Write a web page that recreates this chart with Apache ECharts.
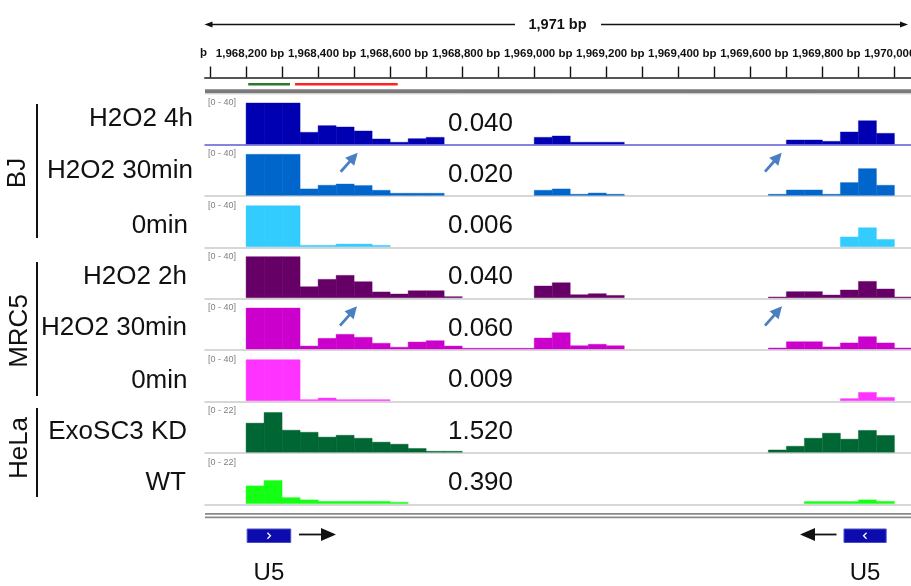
<!DOCTYPE html>
<html><head><meta charset="utf-8">
<script src="https://cdn.jsdelivr.net/npm/echarts@6/dist/echarts.min.js"></script>
<style>html,body{margin:0;padding:0;background:#fff}#c{width:911px;height:586px}</style>
</head><body><div id="c"></div>
<script>
// ---------- data ----------
const viewStart = 1968086, viewEnd = 1970046;
const spanLabel = '1,971 bp';
const rulerTicks = [1968100,1968200,1968300,1968400,1968500,1968600,1968700,1968800,1968900,1969000,1969100,1969200,1969300,1969400,1969500,1969600,1969700,1969800,1969900,1970000];
const rulerLabels = [1968200,1968400,1968600,1968800,1969000,1969200,1969400,1969600,1969800,1970000];
const binStarts = [1968200,1968250,1968300,1968350,1968400,1968450,1968500,1968550,1968600,1968650,1968700,1968750,1968800,1968850,1968900,1968950,1969000,1969050,1969100,1969150,1969200,1969250,1969300,1969350,1969400,1969450,1969500,1969550,1969600,1969650,1969700,1969750,1969800,1969850,1969900,1969950,1970000];
const binSize = 50;
const groupNames = ['BJ','MRC5','HeLa'];
const trackNames = ['H2O2 4h','H2O2 30min','0min','H2O2 2h','H2O2 30min','0min','ExoSC3 KD','WT'];
const trackRanges = [40,40,40,40,40,40,22,22];
const trackScores = ['0.040','0.020','0.006','0.040','0.060','0.009','1.520','0.390'];
const bj4h   = [40,40,40,11.4,17.9,16.6,12.7,4.9,1.7,5.2,6.5,0,0,0,0,0,6.5,7.8,1.7,1.7,1.7,0,0,0,0,0,0,0,0,0,3.9,3.9,2.6,11.7,22.7,10.4,0];
const bj30   = [40,40,40,6.2,9.8,11,9.5,4.9,2,2,2,0,0,0,0,0,4.9,6.2,1,2.2,1,0,0,0,0,0,0,0,0,1,5.2,5.2,1,12.4,26,9.8,0];
const bj0    = [40,40,40,1.3,1.3,2.6,2.6,1.3,0,0,0,0,0,0,0,0,0,0,0,0,0,0,0,0,0,0,0,0,0,0,0,0,0,9.5,18.5,7.1,0];
const mrc2h  = [40,40,40,10.7,17.9,21.8,15.6,5.6,3.6,6.8,6.8,1,0,0,0,0,11.4,14.6,2.9,3.9,2.2,0,0,0,0,0,0,0,0,0.7,5.9,5.9,2.6,7.5,15.9,8.5,0.7];
const mrc30  = [40,40,40,2.9,10.4,14.3,11.4,5.6,1.7,6.8,8.1,2.9,0.7,0.7,0.7,0.7,10.7,15.9,3.2,4.6,3.2,0,0,0,0,0,0,0,0,1,7.1,7.1,2,5.9,12,5.9,1];
const mrc0   = [40,40,40,1,2.6,1,1,1,0,0,0,0,0,0,0,0,0,0,0,0,0,0,0,0,0,0,0,0,0,0,0,0,0,2,8.1,3.2,0];
const helaKD = [15.6,21.3,11.8,10.7,8.1,9.1,7.5,5.4,4.3,2,0.5,0.5,0,0,0,0,0,0,0,0,0,0,0,0,0,0,0,0,0,1.2,3.2,7.5,10.2,7,11.7,9,0];
const helaWT = [9.5,12.4,3.2,2,1.2,1.2,1.2,1.2,0.7,0,0,0,0,0,0,0,0,0,0,0,0,0,0,0,0,0,0,0,0,0,0,1.1,1.1,1.1,2,1.2,0];
const regionStart = [1968206,1968336];
const regionEnd   = [1968322,1968621];
const geneStart  = [1968203,1969860];
const geneEnd    = [1968324,1969977];
const geneStrand = ['+','-'];
const geneName   = ['U5','U5'];

// ---------- styling / layout ----------
const tracks = [bj4h,bj30,bj0,mrc2h,mrc30,mrc0,helaKD,helaWT];
const trackColors = ['#0000b2','#0066cc','#33ccff','#660066','#cc00cc','#ff33ff','#006633','#14ff14'];
const baselines = [144,195.3,246.7,297.7,349,400.7,452.2,503.6];
const labelY = [119,171,225.5,276.5,328,381,432,483];
const labelRight = [193,193,188,187,187,187.5,187,186];
const regionColors = ['#2b7a2b','#ff2424'];
const FONT = '"Liberation Sans", Arial, Helvetica, sans-serif';
const L = 205, W = 706;

const chart = echarts.init(document.getElementById('c'), null, {renderer:'canvas'});
const grid = [], xAxis = [], yAxis = [], series = [];
function fmt(v){ return String(v).replace(/\B(?=(\d{3})+(?!\d))/g, ',') + ' bp'; }
function mkGrid(top, height){ return {left:L, width:W, top:top, height:height, containLabel:false, outerBoundsMode:'none'}; }

tracks.forEach((vals, i) => {
  grid.push(mkGrid(baselines[i]-41, 41));
  xAxis.push({type:'value', gridIndex:i, min:viewStart, max:viewEnd, offset:0.75,
    axisLine:{show:true, onZero:false, lineStyle:{color: i===0 ? '#5b5bd6' : '#cacaca', width:1.5}},
    axisTick:{show:false}, axisLabel:{show:false}, splitLine:{show:false}});
  yAxis.push({type:'value', gridIndex:i, min:0, max:trackRanges[i], show:false});
  const color = trackColors[i];
  series.push({type:'custom', xAxisIndex:i, yAxisIndex:i, encode:{x:[0,1], y:2},
    data: binStarts.map((s,k)=>[s, s+binSize, vals[k]]).filter(d=>d[2]>0),
    renderItem:(params, api)=>{
      const p0 = api.coord([api.value(0), api.value(2)]);
      const p1 = api.coord([api.value(1), 0]);
      return {type:'rect', shape:{x:p0[0], y:p0[1], width:p1[0]-p0[0], height:p1[1]-p0[1]},
        style:{fill:color, stroke:color, lineWidth:0.4}};
    }});
});

// ruler grid (index 8)
grid.push(mkGrid(76.5, 1));
xAxis.push({type:'value', gridIndex:8, position:'top', min:viewStart, max:viewEnd,
  axisLine:{show:true, lineStyle:{color:'#555', width:2}},
  axisTick:{show:true, length:11, lineStyle:{color:'#111', width:1.4}, customValues:rulerTicks},
  axisLabel:{show:true, customValues:rulerLabels, formatter:fmt, fontFamily:FONT, fontSize:11.5, fontWeight:'bold', color:'#111', margin:17, padding:[0,0,0,8], hideOverlap:false},
  splitLine:{show:false}});
yAxis.push({type:'value', gridIndex:8, min:0, max:1, show:false});

// region lines grid (index 9)
grid.push(mkGrid(83, 2.4));
xAxis.push({type:'value', gridIndex:9, min:viewStart, max:viewEnd, show:false});
yAxis.push({type:'value', gridIndex:9, min:0, max:1, show:false});
series.push({type:'custom', xAxisIndex:9, yAxisIndex:9, encode:{x:[0,1]},
  data: regionStart.map((s,k)=>[s, regionEnd[k], k]),
  renderItem:(params, api)=>{
    const p0 = api.coord([api.value(0), 1]);
    const p1 = api.coord([api.value(1), 0]);
    return {type:'rect', shape:{x:p0[0], y:p0[1], width:p1[0]-p0[0], height:p1[1]-p0[1]},
      style:{fill: regionColors[api.value(2)]}};
  }});

// gene grid (index 10)
grid.push(mkGrid(529, 13.5));
xAxis.push({type:'value', gridIndex:10, min:viewStart, max:viewEnd, show:false});
yAxis.push({type:'value', gridIndex:10, min:0, max:1, show:false});
series.push({type:'custom', xAxisIndex:10, yAxisIndex:10, encode:{x:[0,1]},
  data: geneStart.map((s,k)=>[s, geneEnd[k], k]),
  renderItem:(params, api)=>{
    const k = api.value(2);
    const p0 = api.coord([api.value(0), 1]);
    const p1 = api.coord([api.value(1), 0]);
    const cx = (p0[0]+p1[0])/2, cy = (p0[1]+p1[1])/2;
    const d = geneStrand[k] === '+' ? 1 : -1;
    return {type:'group', children:[
      {type:'rect', shape:{x:p0[0], y:p0[1], width:p1[0]-p0[0], height:p1[1]-p0[1]},
        style:{fill:'#0c0cae', stroke:'#4c4cc8', lineWidth:1}},
      {type:'polyline', shape:{points:[[cx-1.5*d, cy-3],[cx+1.5*d, cy],[cx-1.5*d, cy+3]]},
        style:{stroke:'#ffffff', lineWidth:1.3, fill:null}},
      {type:'text', x:cx, y:p1[1]+30.5, style:{text:geneName[k], font:'24px '+FONT, fill:'#111', textAlign:'center', textVerticalAlign:'middle'}}
    ]};
  }});

// ---------- annotations ----------
const g = [];
function arrow(x1,y1,x2,y2,color,lw,hl,hw){
  const dx=x2-x1, dy=y2-y1, len=Math.hypot(dx,dy), ux=dx/len, uy=dy/len;
  const bx=x2-ux*hl, by=y2-uy*hl, nx=-uy, ny=ux;
  g.push({type:'line', shape:{x1:x1,y1:y1,x2:bx+ux*1,y2:by+uy*1}, style:{stroke:color, lineWidth:lw}, z:100});
  g.push({type:'polygon', shape:{points:[[x2,y2],[bx+nx*hw/2,by+ny*hw/2],[bx-nx*hw/2,by-ny*hw/2]]}, style:{fill:color}, z:100});
}
// span header
g.push({type:'text', x:557.5, y:25, style:{text:spanLabel, font:'bold 14.5px '+FONT, fill:'#111', textAlign:'center', textVerticalAlign:'middle'}});
arrow(515,24.5,204.5,24.5,'#111',1.4,8,6);
arrow(601,24.5,908,24.5,'#111',1.4,8,6);
// clipped label fragment at left edge of ruler
g.push({type:'text', x:207, y:53, style:{text:'þ', font:'bold 11.5px '+FONT, fill:'#111', textAlign:'right', textVerticalAlign:'middle'}});
// thick separator under ruler
g.push({type:'rect', shape:{x:L, y:89.3, width:W, height:4}, style:{fill:'#7a7a7a'}});
g.push({type:'line', shape:{x1:L,y1:93.8,x2:L+W,y2:93.8}, style:{stroke:'#c8c8c8', lineWidth:1}});
// bottom double line
g.push({type:'line', shape:{x1:L,y1:513.8,x2:L+W,y2:513.8}, style:{stroke:'#8a8a8a', lineWidth:1.8}});
g.push({type:'line', shape:{x1:L,y1:517.4,x2:L+W,y2:517.4}, style:{stroke:'#8a8a8a', lineWidth:1.8}});
// track texts
tracks.forEach((v,i)=>{
  g.push({type:'text', x:208, y:baselines[i]-41.5, style:{text:'[0 - '+trackRanges[i]+']', font:'9px '+FONT, fill:'#808080', textAlign:'left', textVerticalAlign:'middle'}});
  g.push({type:'text', x:labelRight[i], y:labelY[i], style:{text:trackNames[i], font:'26px '+FONT, fill:'#111', textAlign:'right', textVerticalAlign:'middle'}});
  g.push({type:'text', x:480.5, y:baselines[i]-20.5, style:{text:trackScores[i], font:'26px '+FONT, fill:'#111', textAlign:'center', textVerticalAlign:'middle'}});
});
// group labels + bars
const groupCenters = [[18,173],[20,331],[20,448]];
const groupBars = [[104,238],[262,396],[408,497]];
groupNames.forEach((n,i)=>{
  g.push({type:'text', x:groupCenters[i][0], y:groupCenters[i][1], rotation:Math.PI/2,
    style:{text:n, font:'26px '+FONT, fill:'#111', textAlign:'center', textVerticalAlign:'middle'}});
  g.push({type:'line', shape:{x1:37,y1:groupBars[i][0],x2:37,y2:groupBars[i][1]}, style:{stroke:'#111', lineWidth:2}});
});
// blue annotation arrows
const blue = '#4a7fc2';
arrow(340.7,171.7,357.7,152.7,blue,2.8,12,12);
arrow(765,171.7,781.7,152.7,blue,2.8,12,12);
arrow(340,325.7,357,306.3,blue,2.8,12,12);
arrow(765,325.7,782,306.3,blue,2.8,12,12);
// strand arrows
arrow(299,534.5,336,534.5,'#111',1.8,15,13);
arrow(836.5,534.5,800,534.5,'#111',1.8,15,13);

chart.setOption({animation:false, backgroundColor:'#fff', grid, xAxis, yAxis, series, graphic:{elements:g}});
</script></body></html>
